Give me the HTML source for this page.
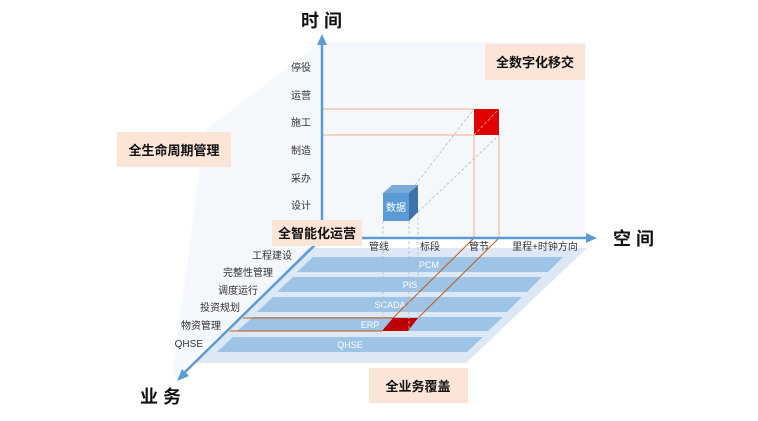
<!DOCTYPE html>
<html><head><meta charset="utf-8"><style>
html,body{margin:0;padding:0;background:#fff;}
svg text{font-family:"Liberation Sans","Noto Sans CJK SC",sans-serif;}
</style></head><body>
<svg width="758" height="416" viewBox="0 0 758 416" xmlns="http://www.w3.org/2000/svg">
<!-- walls -->
<polygon points="322,42 205,130 172,378 322,238" fill="#f4f7fc"/>
<rect x="322" y="42" width="263" height="196" fill="#f4f7fc"/>
<!-- floor -->
<polygon points="308,248 587,248 466,363 196,363" fill="#dce8f5"/>
<!-- bars -->
<g fill="#9dc3e6">
<polygon points="313,257 563,257 548,272 297,272"/>
<polygon points="293,277 542,277 527,292 277,292"/>
<polygon points="273,297 522,297 507,312 257,312"/>
<polygon points="253,317 503,317 488,331 237,331"/>
<polygon points="233,337 483,337 467,352 217,352"/>
</g>
<g fill="#fff" font-size="9" text-anchor="middle">
<text x="429" y="268">PCM</text>
<text x="410" y="288">PIS</text>
<text x="390" y="308">SCADA</text>
<text x="370" y="328">ERP</text>
<text x="350" y="348">QHSE</text>
</g>
<!-- orange lines -->
<g stroke="#f4b183" stroke-width="1" fill="none">
<line x1="322" y1="109" x2="474" y2="109"/>
<line x1="322" y1="135" x2="474" y2="135"/>
<line x1="474" y1="135" x2="474" y2="238"/>
<line x1="499" y1="135" x2="499" y2="238"/>
</g>
<g stroke="#c55a11" stroke-width="1" fill="none">
<line x1="474" y1="238" x2="393" y2="318"/>
<line x1="499" y1="238" x2="418" y2="318"/>
<line x1="243" y1="318" x2="393" y2="318"/>
<line x1="230" y1="331" x2="382" y2="331"/>
</g>
<polygon points="393,318 418,318 408,331 382,331" fill="#c00000"/>
<rect x="474" y="109" width="25" height="26" fill="#e00000"/>
<!-- dashed -->
<g stroke="#bbb" stroke-width="0.8" stroke-dasharray="3,2" fill="none">
<line x1="383" y1="221" x2="383" y2="318"/>
<line x1="409" y1="221" x2="409" y2="331"/>
<line x1="418" y1="212" x2="418" y2="318"/>
<line x1="409" y1="193" x2="474" y2="109"/>
<line x1="418" y1="212" x2="499" y2="135"/>
<line x1="474" y1="135" x2="499" y2="109" stroke="#f4b0b0"/>
</g>
<!-- cube -->
<polygon points="383,193 392,185 418,185 409,193" fill="#7aa9d9"/>
<polygon points="409,193 418,185 418,212 409,221" fill="#3f72a8"/>
<rect x="383" y="193" width="26" height="28" fill="#5b9bd5"/>
<text x="396" y="211" font-size="10" fill="#fff" text-anchor="middle">数据</text>
<!-- axes -->
<g stroke="#5b9bd5" stroke-width="2.5" fill="none">
<line x1="322" y1="238" x2="322" y2="44"/>
<line x1="322" y1="238" x2="588" y2="238"/>
<line x1="322" y1="238" x2="183" y2="374"/>
</g>
<polygon points="322,34 317,45 327,45" fill="#5b9bd5"/>
<polygon points="597,238 586,233 586,243" fill="#5b9bd5"/>
<polygon points="177,381 182,369 189,376" fill="#5b9bd5"/>
<!-- time labels -->
<g font-size="10" fill="#333" text-anchor="end">
<text x="311" y="71">停役</text>
<text x="311" y="99">运营</text>
<text x="311" y="126">施工</text>
<text x="311" y="154">制造</text>
<text x="311" y="182">采办</text>
<text x="311" y="209">设计</text>
</g>
<g font-size="10" fill="#333" text-anchor="middle">
<text x="379" y="250">管线</text>
<text x="430" y="250">标段</text>
<text x="479" y="250">管节</text>
<text x="545" y="250">里程+时钟方向</text>
</g>
<g font-size="10" fill="#333" text-anchor="end">
<text x="292" y="259">工程建设</text>
<text x="273" y="276">完整性管理</text>
<text x="258" y="294">调度运行</text>
<text x="240" y="311">投资规划</text>
<text x="221" y="329">物资管理</text>
<text x="203" y="347">QHSE</text>
</g>
<!-- callouts -->
<g fill="#fbe5d6">
<rect x="485" y="44" width="100" height="36"/>
<rect x="117" y="132" width="114" height="35"/>
<rect x="272" y="220" width="90" height="26"/>
<rect x="369" y="368" width="99" height="35"/>
</g>
<g font-size="13" font-weight="bold" fill="#111" text-anchor="middle">
<text x="535" y="67">全数字化移交</text>
<text x="174" y="155">全生命周期管理</text>
<text x="317" y="238">全智能化运营</text>
<text x="418" y="391">全业务覆盖</text>
</g>
<g font-size="18" font-weight="bold" fill="#111">
<text x="301" y="27">时 间</text>
<text x="613" y="245">空 间</text>
<text x="140" y="403">业 务</text>
</g>
</svg>
</body></html>
